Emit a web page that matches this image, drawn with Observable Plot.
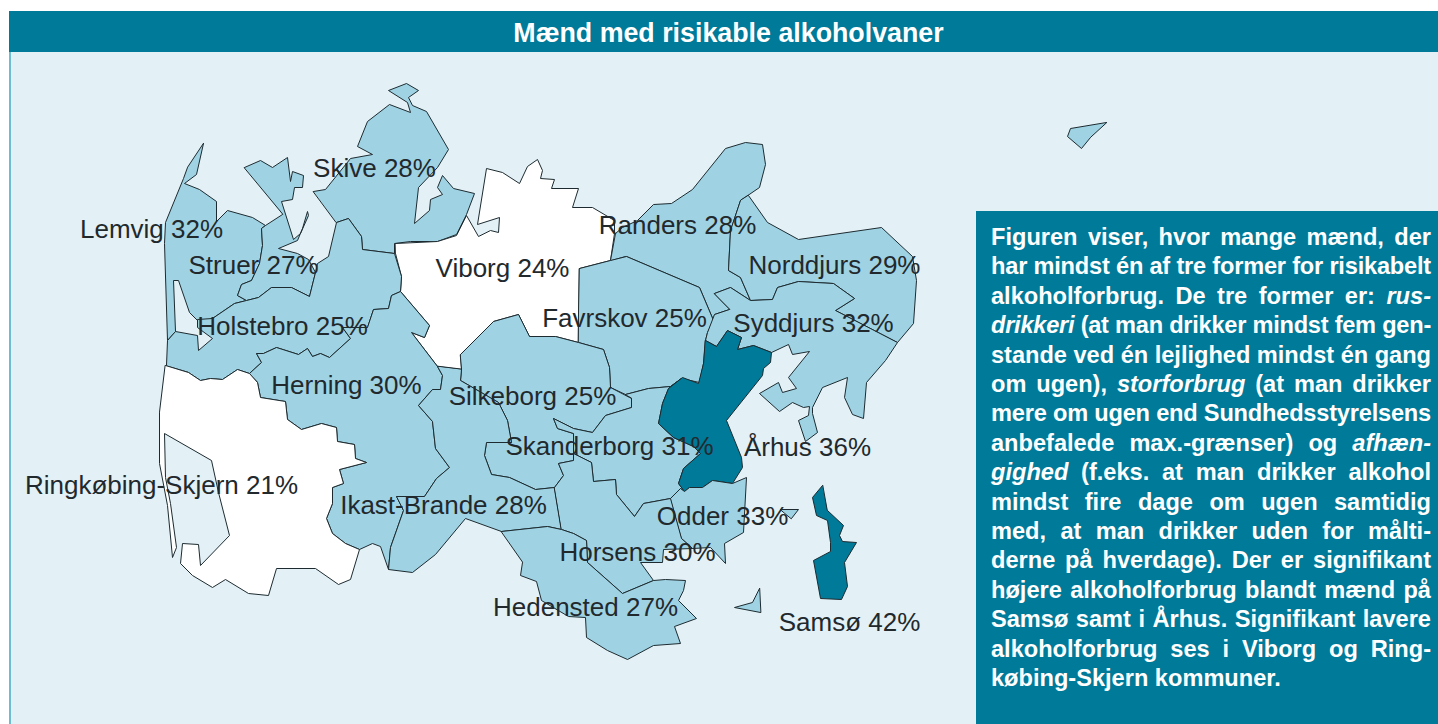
<!DOCTYPE html>
<html lang="da"><head><meta charset="utf-8">
<script src="https://cdn.jsdelivr.net/npm/d3@7"></script>
<script src="https://cdn.jsdelivr.net/npm/@observablehq/plot@0.6"></script>
<style>
html,body{margin:0;padding:0;background:#fff;overflow:hidden}
#page{position:relative;width:1438px;height:724px;overflow:hidden}
#bg{position:absolute;left:9px;top:52px;width:1429px;height:672px;background:#e3f1f7;border-left:2px solid #6cbdd2;box-sizing:border-box}
#title{position:absolute;left:9px;top:11px;width:1429px;height:41px;box-sizing:border-box;padding-left:10px;background:#007a99;color:#fff;font:bold 26.8px "Liberation Sans",sans-serif;text-align:center;line-height:44px}
#chart{position:absolute;left:0;top:0}
#note{position:absolute;left:976px;top:211px;width:462px;height:513px;background:#007a99;color:#fff;font:bold 23.6px/29.4px "Liberation Sans",sans-serif;box-sizing:border-box;padding:12px 7px 0 15px}
#note div{text-align:justify;text-align-last:justify;white-space:nowrap}
#note div:last-child{text-align-last:left}
</style></head><body>
<div id="page"><div id="bg"></div><div id="title">Mænd med risikable alkoholvaner</div><div id="chart"></div><div id="note"></div></div>
<script>
// municipality names, percentages, label anchors (map units)
const names=["Lemvig","Struer","Skive","Viborg","Randers","Norddjurs","Favrskov","Syddjurs","Holstebro","Herning","Silkeborg","Skanderborg","Århus","Ringkøbing-Skjern","Ikast-Brande","Odder","Horsens","Hedensted","Samsø"];
const percents=[32,27,28,24,28,29,25,32,25,30,25,31,36,21,28,33,30,27,42];
const labelX=[151,253,374,502,677,834,624,813,282,346,532,609,807,161,443,722,637,585,849];
const labelY=[229,265,168,268,225,265,318,323,326,385,396,446,447,485,505,516,552,607,622];
// outlines
const Lemvig=[[[203,143],[196,174],[184,183],[199,189],[216,201],[216,221],[227,210],[252,217],[265,225],[261,228],[262,245],[259,263],[251,280],[241,284],[237,295],[246,300],[234,303],[212,318],[200,323],[189,312],[178,280],[173,280],[175,331],[167,340],[164,243],[165,222],[183,178],[187,167]]];
const Struer=[[[244,167],[260,160],[272,167],[287,157],[290,181],[292,171],[303,175],[302,187],[294,187],[292,199],[281,201],[293,239],[300,233],[308,215],[307,211],[302,228],[297,240],[278,248],[297,253],[308,259],[315,272],[309,296],[291,287],[271,287],[258,297],[246,300],[237,295],[241,284],[251,280],[259,263],[262,245],[261,228],[265,225],[282,214]]];
const Skive=[[[313,191],[325,189],[350,158],[372,154],[357,146],[367,121],[389,104],[410,112],[407,102],[388,90],[406,83],[418,90],[408,97],[412,105],[426,111],[448,149],[437,167],[418,187],[414,223],[429,210],[430,199],[442,194],[437,187],[442,175],[453,188],[474,193],[466,214],[456,234],[437,241],[410,241],[394,243],[394,253],[362,249],[361,236],[348,218],[336,222]]];
const Viborg=[[[395,243],[437,241],[456,235],[466,215],[478,236],[490,230],[498,232],[499,217],[477,224],[486,168],[502,172],[519,183],[527,166],[537,159],[542,170],[540,178],[554,179],[551,188],[578,188],[572,207],[592,207],[614,220],[614,233],[610,260],[579,268],[578,342],[555,336],[529,336],[518,314],[493,321],[460,354],[461,369],[437,366],[411,332],[424,337],[429,325],[400,291],[401,276],[395,253]]];
const Randers=[[[610,260],[615,233],[622,227],[637,220],[653,204],[671,203],[692,189],[725,148],[745,142],[762,144],[765,164],[759,187],[740,200],[730,230],[728,270],[740,277],[750,300],[730,287],[714,293],[729,309],[714,314],[713,320],[699,287],[626,256]]];
const Norddjurs=[[[748,195],[767,222],[798,239],[881,227],[912,256],[916,280],[913,323],[897,342],[835,310],[854,298],[833,283],[798,281],[777,287],[772,299],[750,300],[740,277],[728,270],[730,230],[740,200]]];
const Favrskov=[[[579,268],[610,260],[626,256],[699,287],[713,320],[707,332],[705,340],[703,363],[699,382],[681,378],[670,386],[648,388],[625,394],[610,387],[609,367],[603,349],[578,342]]];
const Syddjurs=[[[714,293],[730,287],[750,300],[772,299],[777,287],[798,281],[833,283],[854,298],[835,310],[897,342],[885,360],[866,382],[863,418],[852,414],[844,397],[847,377],[822,387],[812,407],[812,413],[817,432],[805,441],[798,420],[808,415],[809,406],[803,407],[792,402],[779,411],[759,393],[778,382],[782,392],[796,388],[788,377],[809,351],[792,354],[788,344],[771,352],[753,345],[737,349],[741,337],[727,330],[716,346],[705,340],[707,332],[714,314],[729,309]]];
const Holstebro=[[[166,365],[167,340],[175,331],[197,335],[198,350],[212,338],[197,327],[197,319],[212,318],[234,303],[246,300],[258,297],[271,287],[291,287],[309,296],[315,272],[317,263],[328,256],[336,222],[348,218],[361,236],[362,249],[394,253],[401,276],[400,291],[391,295],[388,308],[373,309],[367,327],[342,327],[350,338],[329,357],[320,353],[312,356],[307,348],[298,354],[276,347],[263,353],[256,353],[261,362],[249,373],[237,369],[222,379],[210,378],[200,380],[188,372]]];
const Herning=[[[249,373],[261,362],[256,353],[263,353],[276,347],[298,354],[307,348],[312,356],[320,353],[329,357],[350,338],[342,327],[367,327],[373,309],[388,308],[391,295],[400,291],[429,325],[424,337],[411,332],[437,366],[442,375],[440,389],[432,389],[418,405],[432,421],[435,448],[449,467],[436,478],[424,496],[396,496],[403,510],[390,547],[388,569],[380,546],[372,543],[359,549],[345,543],[332,533],[326,518],[332,503],[332,487],[343,483],[339,469],[366,462],[355,458],[354,444],[337,441],[336,427],[321,423],[301,429],[287,419],[285,401],[260,397],[257,382]]];
const Silkeborg=[[[460,354],[493,321],[518,314],[529,336],[555,336],[578,342],[603,349],[609,367],[610,387],[631,398],[631,407],[605,415],[592,432],[573,428],[553,418],[557,428],[573,433],[573,460],[558,463],[563,475],[554,487],[535,489],[509,477],[491,474],[484,455],[486,442],[511,442],[507,420],[498,402],[460,380],[461,369]]];
const Skanderborg=[[[625,394],[648,388],[670,386],[681,378],[668,388],[662,403],[658,423],[673,437],[693,446],[700,453],[683,468],[678,483],[684,491],[680,488],[670,498],[643,503],[634,516],[616,494],[615,479],[593,481],[591,462],[573,453],[573,433],[557,428],[553,418],[573,428],[592,432],[605,415],[631,407],[631,398]]];
const Aarhus=[[[705,340],[716,346],[727,330],[741,337],[737,349],[753,345],[771,352],[770,362],[763,368],[762,375],[726,420],[741,457],[742,467],[732,483],[712,480],[702,487],[689,487],[684,491],[678,483],[683,468],[700,453],[693,446],[673,437],[658,423],[662,403],[668,388],[682,377],[698,383],[703,363]]];
const Ringkobing=[[[165,365],[188,372],[200,380],[210,378],[222,379],[237,369],[249,373],[257,382],[260,397],[285,401],[287,419],[301,429],[321,423],[336,427],[337,441],[354,444],[355,458],[366,462],[339,469],[343,483],[332,487],[332,503],[326,518],[332,533],[345,543],[359,549],[350,579],[338,584],[315,568],[276,568],[268,595],[248,593],[225,579],[212,587],[192,575],[180,563],[182,543],[198,544],[200,565],[229,535],[218,492],[211,460],[164,433],[165,477],[170,503],[176,547],[172,557],[167,505],[159,463],[159,412]]];
const Ikast=[[[461,369],[460,380],[498,402],[507,420],[511,442],[486,442],[484,455],[491,474],[509,477],[535,489],[554,487],[561,529],[547,526],[501,531],[465,518],[435,554],[412,572],[388,569],[390,547],[403,510],[396,496],[424,496],[436,478],[449,467],[435,448],[432,421],[418,405],[432,389],[440,389],[442,375],[437,366]]];
const Odder=[[[670,498],[680,488],[684,491],[689,487],[702,487],[712,480],[732,483],[746,477],[743,532],[724,543],[725,563],[710,547],[692,548],[681,538]],[[780,509],[798,509],[791,518]]];
const Horsens=[[[554,487],[563,475],[558,463],[573,460],[573,453],[591,462],[593,481],[615,479],[616,494],[634,516],[643,503],[670,498],[681,538],[692,548],[663,549],[662,562],[640,562],[653,580],[622,593],[587,562],[586,540],[573,533],[561,529]]];
const Hedensted=[[[501,531],[547,526],[561,529],[573,533],[586,540],[587,562],[622,593],[653,580],[665,579],[685,580],[683,590],[678,600],[696,618],[674,626],[680,643],[653,645],[627,659],[607,650],[586,637],[585,617],[568,616],[541,600],[536,581],[520,575],[522,562]],[[759,588],[752,602],[734,607],[760,612]]];
const Samso=[[[822,485],[812,497],[816,515],[827,520],[830,542],[830,551],[813,560],[820,598],[841,599],[847,586],[844,562],[856,542],[842,541],[839,535],[843,525],[827,510]]];
const Island=[[[1106,122],[1070,128],[1067,136],[1081,148],[1090,137]]];
const rings=[Lemvig,Struer,Skive,Viborg,Randers,Norddjurs,Favrskov,Syddjurs,Holstebro,Herning,Silkeborg,Skanderborg,Aarhus,Ringkobing,Ikast,Odder,Horsens,Hedensted,Samso];
const noteLines=["Figuren viser, hvor mange mænd, der","har mindst én af tre former for risikabelt","alkoholforbrug. De tre former er: <i>rus-</i>","<i>drikkeri</i> (at man drikker mindst fem gen-","stande ved én lejlighed mindst én gang","om ugen), <i>storforbrug</i> (at man drikker","mere om ugen end Sundhedsstyrelsens","anbefalede max.-grænser) og <i>afhæn-</i>","<i>gighed</i> (f.eks. at man drikker alkohol","mindst fire dage om ugen samtidig","med, at man drikker uden for målti-","derne på hverdage). Der er signifikant","højere alkoholforbrug blandt mænd på","Samsø samt i Århus. Signifikant lavere","alkoholforbrug ses i Viborg og Ring-","købing-Skjern kommuner."];
const note=document.getElementById("note");
note.innerHTML=noteLines.map(l=>`<div><span>${l}</span></div>`).join("");
// squeeze any line wider than the 440px measure
note.querySelectorAll("div").forEach(d=>{
  const s=d.firstChild, w=s.getBoundingClientRect().width;
  if(w>440){ s.style.letterSpacing=((440-w)/s.textContent.length)+"px"; }
  d.style.width="440px";
});

const pts=[];
rings.forEach((polys,i)=>polys.forEach((poly,j)=>poly.forEach(([x,y])=>pts.push({x,y,id:names[i]+j,v:percents[i]}))));
Island[0].forEach(([x,y])=>pts.push({x,y,id:"island",v:28}));
const labels=names.map((n,i)=>({text:`${n} ${percents[i]}%`,x:labelX[i],y:labelY[i]}));

const plot=Plot.plot({
  width:1438,height:724,margin:0,
  style:{background:"transparent"},
  x:{domain:[0,1438],axis:null},
  y:{domain:[724,0],axis:null},
  color:{type:"threshold",domain:[25,35],range:["#ffffff","#9fd3e4","#007a99"]},
  marks:[
    Plot.line(pts,{x:"x",y:"y",z:"id",fill:"v",stroke:"#1d2b30",strokeWidth:1,curve:"linear-closed",strokeLinejoin:"miter"}),
    Plot.text(labels,{x:"x",y:"y",text:"text",fontSize:26,fontFamily:"Liberation Sans",fill:"#22292d"})
  ]
});
document.getElementById("chart").appendChild(plot);
</script></body></html>
